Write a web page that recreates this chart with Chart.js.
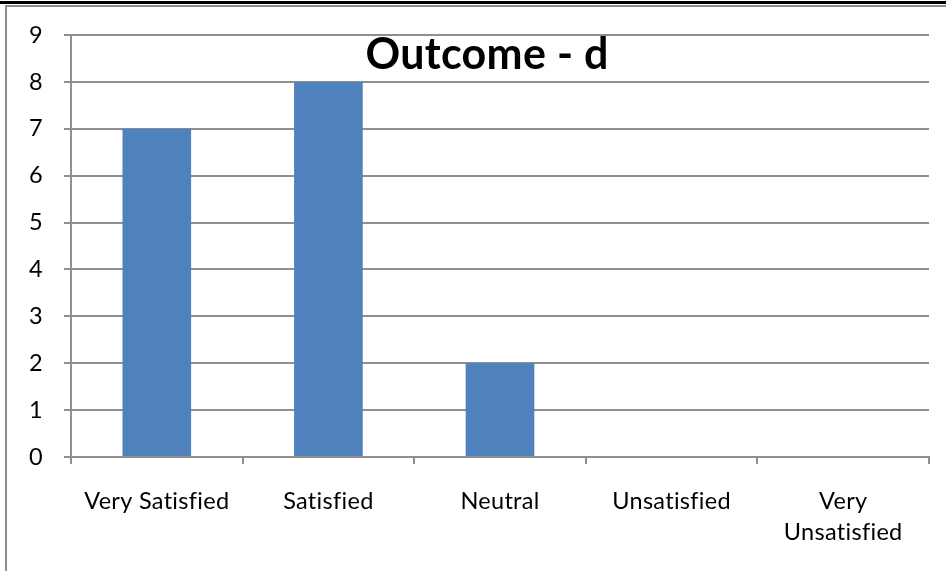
<!DOCTYPE html>
<html>
<head>
<meta charset="utf-8">
<title>Outcome - d</title>
<script src="https://cdn.jsdelivr.net/npm/chart.js@4/dist/chart.umd.min.js"></script>
<style>
  html, body { margin: 0; padding: 0; background: #ffffff; }
  canvas { display: block; }
</style>
</head>
<body>
<canvas id="chart" width="946" height="571"></canvas>
<script>
// Survey responses for outcome d
const categories = ['Very Satisfied', 'Satisfied', 'Neutral', 'Unsatisfied', ['Very', 'Unsatisfied']];
const responses = [7, 8, 2, 0, 0];
const yTicks = [0, 1, 2, 3, 4, 5, 6, 7, 8, 9];
const chartTitle = 'Outcome - d';

const GRID = '#8f8f8f';
const FONT = 'Lato, "Open Sans", sans-serif';
const SPACING = '0.3px';

// Slight tracking on all text (also keeps "fi" as separate letters)
const textSpacing = {
  id: 'textSpacing',
  beforeLayout(chart) { chart.ctx.letterSpacing = SPACING; },
  beforeDraw(chart) { chart.ctx.letterSpacing = SPACING; }
};

// Page frame and white background
const framePlugin = {
  id: 'frame',
  beforeDraw(chart) {
    const { ctx, width, height } = chart;
    ctx.save();
    ctx.fillStyle = '#ffffff';
    ctx.fillRect(0, 0, width, height);
    ctx.fillStyle = '#000000';
    ctx.fillRect(0, 1, width, 3);
    ctx.fillStyle = '#8c8c8c';
    ctx.fillRect(5, 5, width - 5, 2);
    ctx.fillRect(5, 5, 2, height - 5);
    ctx.restore();
  }
};

// Title drawn inside the plot area, between the top gridlines
const innerTitle = {
  id: 'innerTitle',
  afterDatasetsDraw(chart) {
    const { ctx, chartArea, scales } = chart;
    const x = chartArea.left + chartArea.width * 0.485;
    const y = scales.y.getPixelForValue(8.57);
    ctx.save();
    ctx.font = 'bold 43px ' + FONT;
    ctx.fillStyle = '#000000';
    ctx.textAlign = 'center';
    ctx.textBaseline = 'middle';
    ctx.fillText(chartTitle, x, y);
    ctx.restore();
  }
};

new Chart(document.getElementById('chart'), {
  type: 'bar',
  data: {
    labels: categories,
    datasets: [{
      data: responses,
      backgroundColor: '#4f81bd',
      borderWidth: 0,
      categoryPercentage: 1.0,
      barPercentage: 0.4
    }]
  },
  options: {
    responsive: false,
    animation: false,
    devicePixelRatio: 1,
    layout: { padding: { top: 34, right: 17, left: 0, bottom: 0 } },
    plugins: {
      legend: { display: false },
      title: { display: false },
      tooltip: { enabled: false }
    },
    scales: {
      x: {
        offset: true,
        afterFit(scale) { scale.height = 114; },
        grid: {
          offset: true,
          drawOnChartArea: false,
          drawTicks: true,
          tickLength: 7,
          color: GRID,
          lineWidth: 2
        },
        border: { display: true, color: GRID, width: 2 },
        ticks: {
          color: '#000000',
          padding: 22,
          maxRotation: 0,
          autoSkip: false,
          font: { family: FONT, size: 23.5, lineHeight: 1.32 }
        }
      },
      y: {
        min: yTicks[0],
        max: yTicks[yTicks.length - 1],
        afterFit(scale) { scale.width = 71; },
        afterBuildTicks(scale) { scale.ticks = yTicks.map(v => ({ value: v })); },
        grid: {
          drawTicks: true,
          tickLength: 7,
          color: GRID,
          lineWidth: 2
        },
        border: { display: true, color: GRID, width: 2 },
        ticks: {
          color: '#000000',
          padding: 21,
          stepSize: 1,
          font: { family: FONT, size: 23.5 }
        }
      }
    }
  },
  plugins: [textSpacing, framePlugin, innerTitle]
});
</script>
</body>
</html>
